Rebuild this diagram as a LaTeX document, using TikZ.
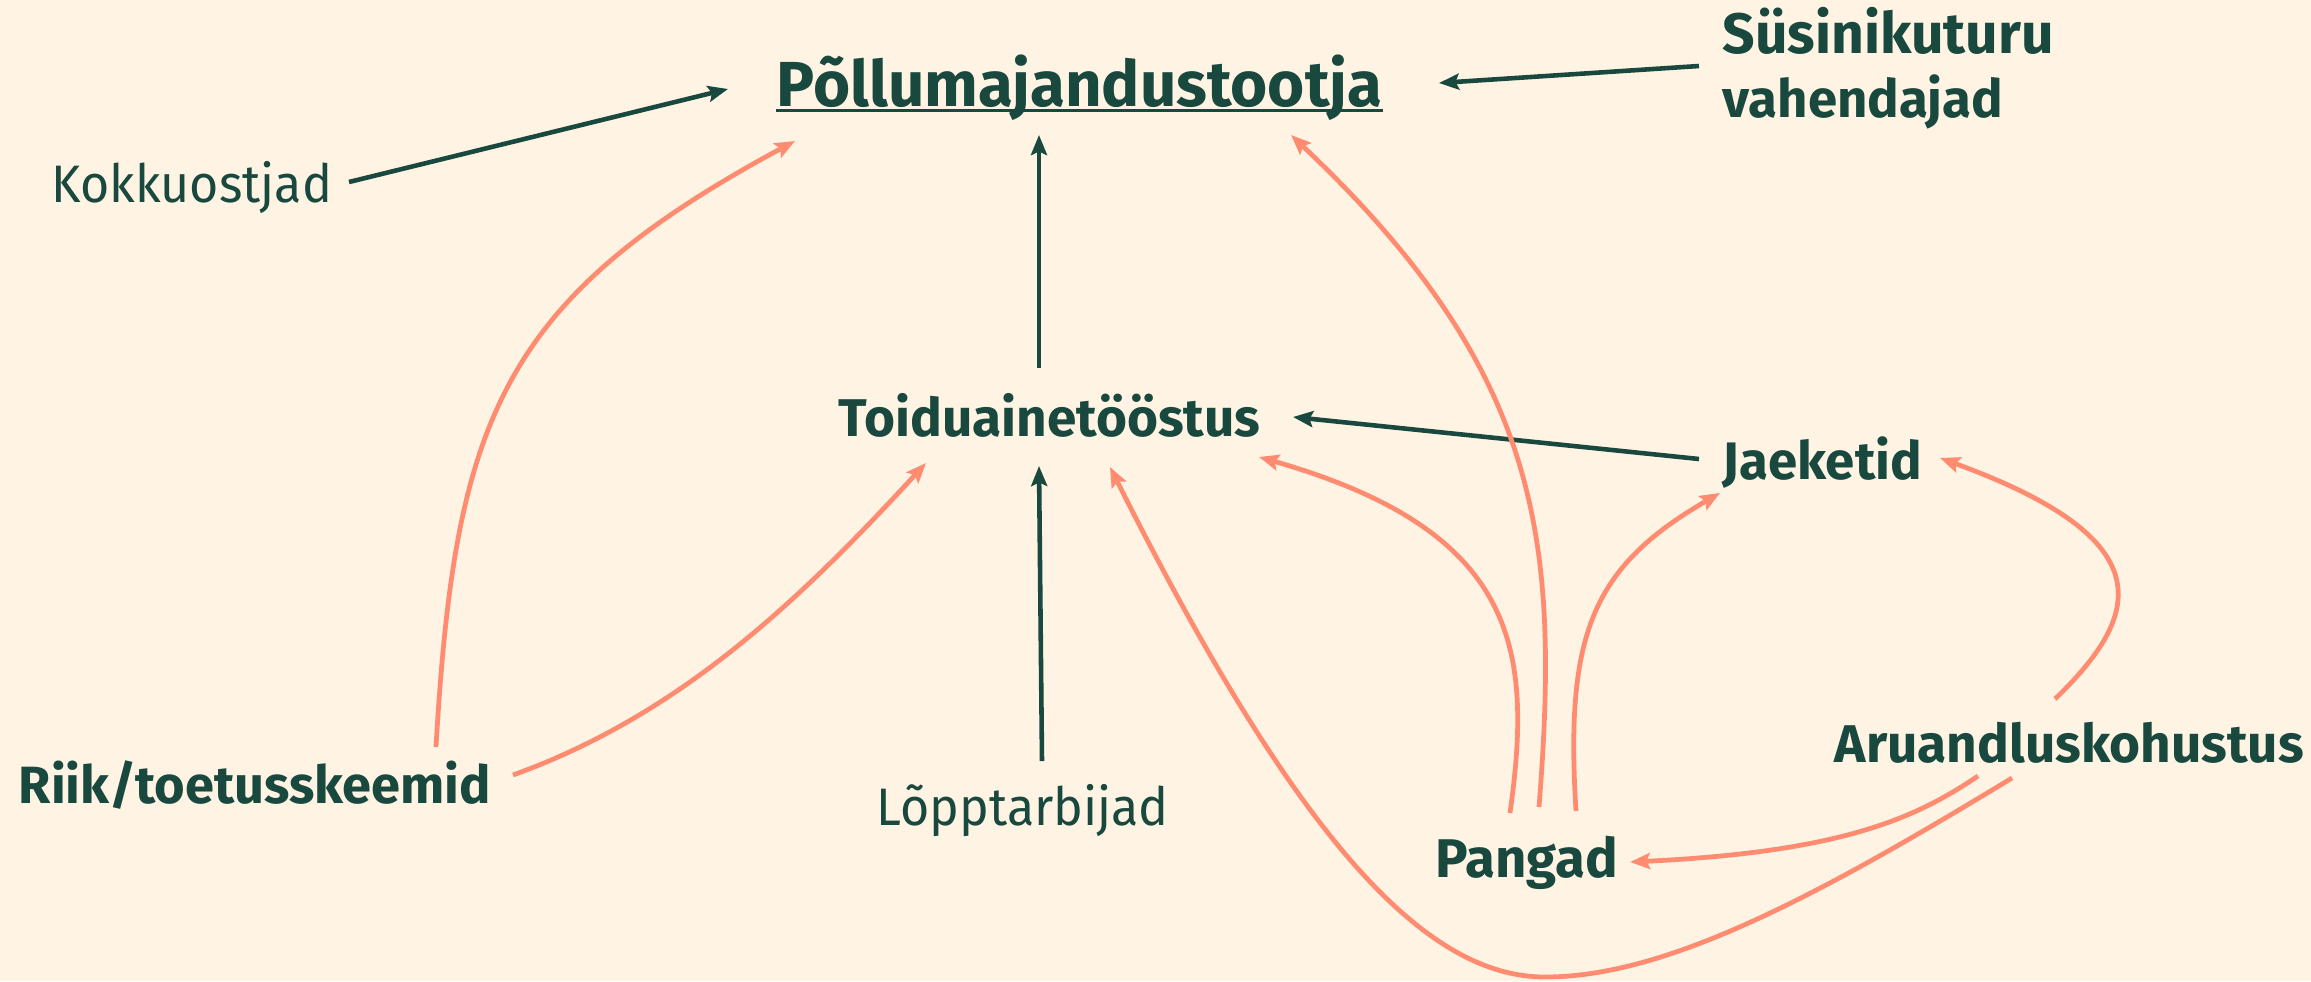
\documentclass[tikz,border=0pt]{standalone}
\usepackage{fontspec}
\usetikzlibrary{arrows.meta}
\setmainfont{Fira Sans}
\newfontfamily\regfont[FakeStretch=0.95]{Fira Sans}
\definecolor{bgc}{RGB}{255,243,227}
\definecolor{dk}{RGB}{24,72,62}
\definecolor{sal}{RGB}{255,139,113}
\begin{document}
\begin{tikzpicture}[x=0.01cm,y=-0.01cm,
  lbl/.style={inner sep=0pt,anchor=base west,text=dk,font=\regfont\fontsize{15}{18}\selectfont},
  blbl/.style={inner sep=0pt,anchor=base west,text=dk,font=\fontsize{#1}{18}\selectfont\bfseries},
  blbl/.default=15,
  dkarrow/.style={draw=dk,line width=1.3pt,-{Stealth[length=0.2cm,width=0.16cm,inset=0.035cm]}},
  salarrow/.style={draw=sal,line width=1.35pt,-{Stealth[length=0.2cm,width=0.16cm,inset=0.035cm]}}]
\fill[bgc] (0,0) rectangle (2311,981);
\useasboundingbox (0,0) rectangle (2311,981);

\node[blbl=18.1] (pol) at (776,106) {Põllumajandustootja};
\draw[dk,line width=0.75pt] ([yshift=-0.045cm]pol.base west) -- ([yshift=-0.045cm]pol.base east);
\node[blbl=16.2] (sus1) at (1722,53) {Süsinikuturu};
\node[blbl=15] (sus2) at (1722,117) {vahendajad};
\node[lbl] (kok) at (51,202) {Kokkuostjad};
\node[blbl=15.1] (toid) at (838,436) {Toiduainetööstus};
\node[blbl=15] (jae) at (1722,479) {Jaeketid};
\node[blbl=14.9] (riik) at (18,803) {Riik/toetusskeemid};
\node[lbl] (lop) at (876,825) {Lõpptarbijad};
\node[blbl=15.1] (aru) at (1834,762) {Aruandluskohustus};
\node[blbl=15.5] (pan) at (1435,877) {Pangad};

% dark arrows
\draw[dkarrow] ([shift={(298,-20)}]kok.base west) -- ([shift={(-48,-17)}]pol.base west);
\draw[dkarrow] ([shift={(-23,13)}]sus1.base west) -- ([shift={(663,-23)}]pol.base west);
\draw[dkarrow] ([shift={(201,-68)}]toid.base west) -- ([shift={(263,29)}]pol.base west);
\draw[dkarrow] ([shift={(-23,-20)}]jae.base west) -- ([shift={(455,-19)}]toid.base west);
\draw[dkarrow] ([shift={(166,-64)}]lop.base west) -- ([shift={(201,30)}]toid.base west);

% salmon arrows
\draw[salarrow] ([shift={(418,-56)}]riik.base west) .. controls (455,420) and (500,300) .. ([shift={(19,35)}]pol.base west);
\draw[salarrow] ([shift={(495,-28)}]riik.base west) .. controls (680,715) and (800,600) .. ([shift={(88,27)}]toid.base west);
\draw[salarrow] ([shift={(75,-64)}]pan.base west) .. controls (1533,649) and (1518,531) .. ([shift={(421,21)}]toid.base west);
\draw[salarrow] ([shift={(104,-70)}]pan.base west) .. controls (1560,540) and (1542,372) .. ([shift={(515,29)}]pol.base west);
\draw[salarrow] ([shift={(141,-66)}]pan.base west) .. controls (1565,634) and (1592,567) .. ([shift={(-2,14)}]jae.base west);
\draw[salarrow] ([shift={(221,-63)}]aru.base west) .. controls (2142,615) and (2165,540) .. ([shift={(218,-21)}]jae.base west);
\draw[salarrow] ([shift={(144,14)}]aru.base west) .. controls (1916,818) and (1842,852) .. ([shift={(195,-15)}]pan.base west);
\coordinate (low) at (1545,977);
\draw[salarrow] ([shift={(178,16)}]aru.base west) .. controls (1813,899) and (1665,977) .. (low) .. controls (1425,977) and (1297,840) .. ([shift={(272,31)}]toid.base west);
\end{tikzpicture}
\end{document}
